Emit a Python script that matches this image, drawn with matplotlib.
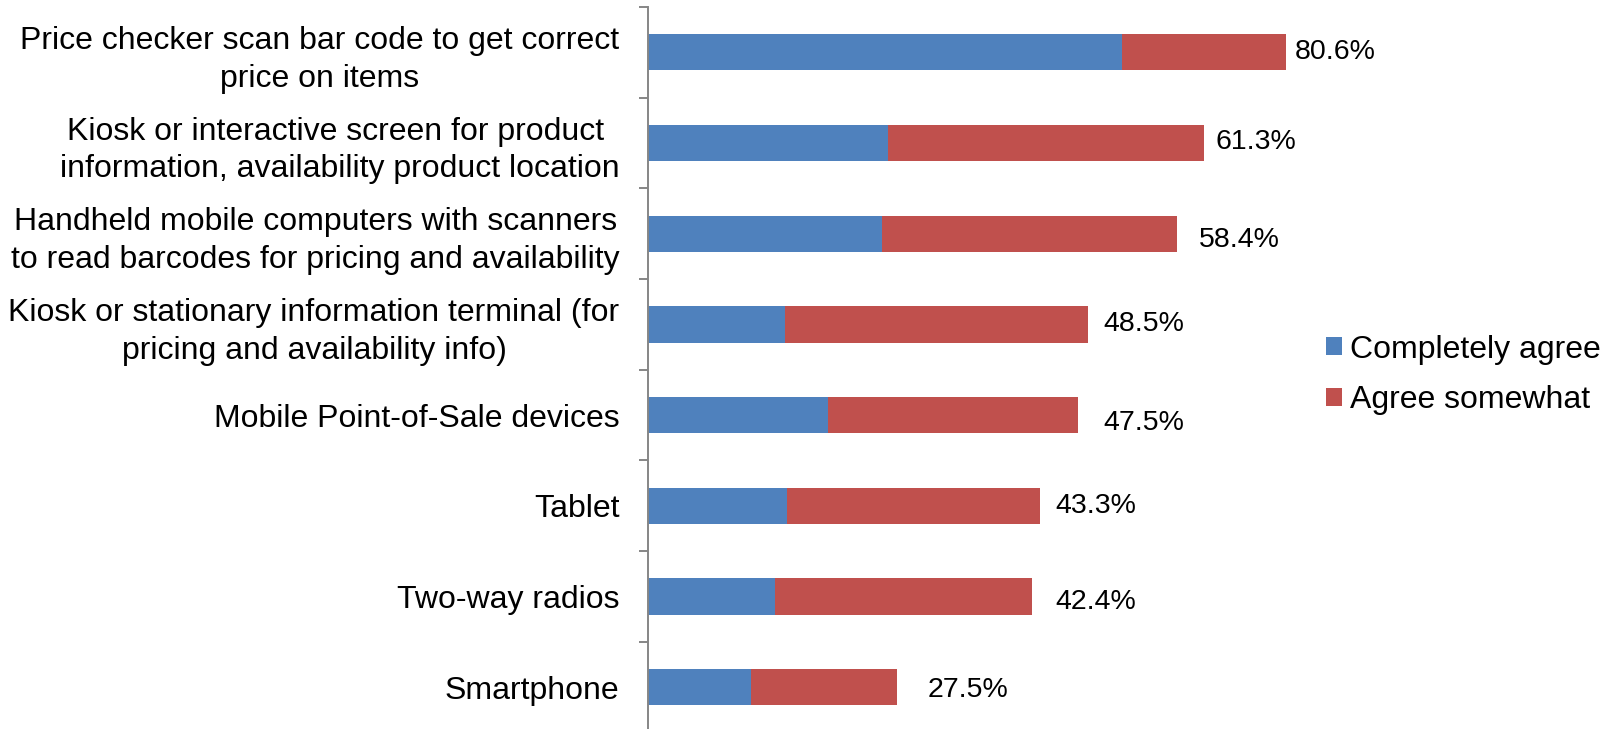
#!/usr/bin/env python3
"""Stacked horizontal bars: agreement with in-store technology statements."""

import matplotlib
matplotlib.use("Agg")
import matplotlib.pyplot as plt
import numpy as np

plt.rcParams['font.family'] = ['Liberation Sans', 'DejaVu Sans']

categories = [
    "Price checker scan bar code to get correct\nprice on items",
    "Kiosk or interactive screen for product \ninformation, availability product location",
    "Handheld mobile computers with scanners\nto read barcodes for pricing and availability",
    "Kiosk or stationary information terminal (for\npricing and availability info)",
    "Mobile Point-of-Sale devices",
    "Tablet",
    "Two-way radios",
    "Smartphone",
]
completely_agree = [52.3, 26.5, 25.8, 15.1, 19.9, 15.3, 14.0, 11.4]
total_agree = [80.6, 61.3, 58.4, 48.5, 47.5, 43.3, 42.4, 27.5]
series_names = ["Completely agree", "Agree somewhat"]

BLUE = '#4F81BD'
RED = '#C0504D'
AXIS_GREY = '#868686'
X_MAX = 70.4

# nudges (pixels) for the total labels, right of the bar end / downward
label_dx = [9, 12, 22, 16, 25, 15, 23, 30]
label_dy = [0, -1, 6, 0, 8, 0, 6, 3]

W, H, DPI = 1611, 729, 100
fig = plt.figure(figsize=(W / DPI, H / DPI), dpi=DPI)
fig.patch.set_facecolor('white')

# axes box in pixels: left 648, right 1286, top 7, bottom 732.5 (runs off the image)
left, right, top, bottom = 648, 1286, 7, 732.5
ax = fig.add_axes([left / W, 1 - bottom / H, (right - left) / W, (bottom - top) / H])

y = np.arange(len(categories))
somewhat = [t - c for t, c in zip(total_agree, completely_agree)]

ax.barh(y, completely_agree, height=0.4, color=BLUE, label=series_names[0])
ax.barh(y, somewhat, left=completely_agree, height=0.4, color=RED, label=series_names[1])

ax.set_xlim(0, X_MAX)
ax.set_ylim(len(categories) - 0.5, -0.5)

# total labels
for i, tot in enumerate(total_agree):
    ax.annotate(f"{tot:.1f}%", xy=(min(tot, X_MAX), y[i]),
                xytext=(label_dx[i], -label_dy[i]), textcoords='offset pixels',
                ha='left', va='center', fontsize=20.5, color='black',
                annotation_clip=False)

# axis styling: only the left spine with boundary ticks
for side in ['top', 'right', 'bottom']:
    ax.spines[side].set_visible(False)
ax.spines['left'].set_color(AXIS_GREY)
ax.spines['left'].set_linewidth(1.4)
ax.set_xticks([])

ax.set_yticks(np.arange(-0.5, len(categories), 1.0))
ax.set_yticklabels([])
ax.tick_params(axis='y', which='major', direction='out', length=6.5,
               width=1.4, color=AXIS_GREY)
ax.set_yticks(y, minor=True)
ax.set_yticklabels(categories, minor=True, fontsize=23, multialignment='center',
                   linespacing=1.34)
ax.tick_params(axis='y', which='minor', length=0, pad=20.5)

fig.legend(loc='center left', bbox_to_anchor=(1326 / W, 1 - 375 / H),
           frameon=False, fontsize=23, handlelength=0.5, handleheight=0.5,
           handletextpad=0.25, labelspacing=0.65, borderpad=0, borderaxespad=0)

fig.savefig('out.png', dpi=DPI, facecolor='white')
plt.close(fig)
